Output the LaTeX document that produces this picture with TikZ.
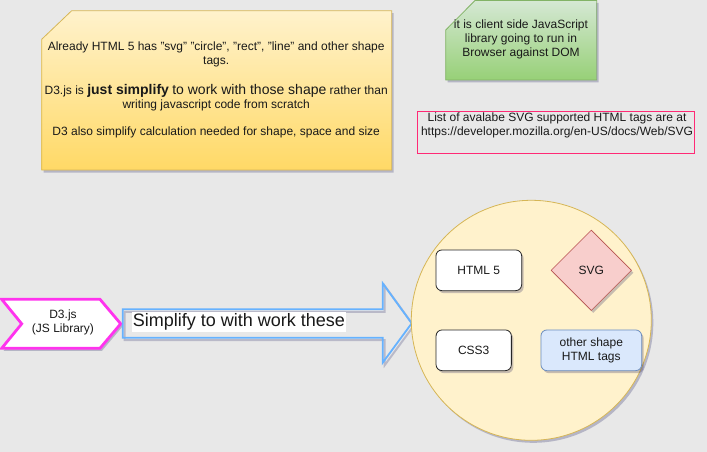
\documentclass[tikz,border=0pt]{standalone}
\usepackage{fontspec}
\setmainfont{Liberation Sans}
\usetikzlibrary{shapes.geometric,shadows}
\definecolor{bg}{HTML}{E8E8E8}
\definecolor{noteTop}{HTML}{FFF2CC}
\definecolor{noteBot}{HTML}{FFD966}
\definecolor{noteLine}{HTML}{D6B656}
\definecolor{greenTop}{HTML}{D5E8D4}
\definecolor{greenBot}{HTML}{97D077}
\definecolor{greenLine}{HTML}{82B366}
\definecolor{pinkLine}{HTML}{FF2A75}
\definecolor{chevLine}{HTML}{FF33EE}
\definecolor{arrowLine}{HTML}{66B2FF}
\definecolor{circFill}{HTML}{FFF2CC}
\definecolor{redFill}{HTML}{F8CECC}
\definecolor{redLine}{HTML}{B85450}
\definecolor{blueFill}{HTML}{DAE8FC}
\definecolor{blueLine}{HTML}{6C8EBF}
\tikzset{
  shad/.style={drop shadow={shadow xshift=2pt,shadow yshift=-2.5pt,opacity=0.22,fill=black!70!blue}},
  txt/.style={font=\fontsize{12}{14}\selectfont, align=center, inner sep=0pt, text=black!90},
  rbox/.style={draw=black!85, fill=white, rounded corners=6pt, minimum height=40.7pt, inner sep=0pt, line width=0.8pt, txt, shad},
}
\begin{document}
\begin{tikzpicture}[x=1pt,y=-1pt]
\fill[bg] (0,0) rectangle (707,452);
\useasboundingbox (0,0) rectangle (707,452);

% yellow note
\path[shad, draw=noteLine, top color=noteTop, bottom color=noteBot, line width=0.8pt]
  (71.7,10.7) -- (391.7,10.7) -- (391.7,170) -- (41.7,170) -- (41.7,39.3) -- cycle;
\node[txt] (p1) at (216.2,54.2) {Already HTML 5 has "svg" "circle", "rect", "line" and other shape\\tags.};
\node[txt] (p2) at (216.2,97.3) {D3.js is {\fontsize{14}{14}\selectfont\bfseries just simplify} {\fontsize{14}{14}\selectfont to work with those shape} rather than\\writing javascript code from scratch};
\node[txt] (p3) at (216.2,132.7) {D3 also simplify calculation needed for shape, space and size};

% green note
\path[shad, draw=greenLine, top color=greenTop, bottom color=greenBot, line width=0.8pt]
  (475,0.5) -- (596.7,0.5) -- (596.7,80) -- (445.7,80) -- (445.7,30) -- cycle;
\node[txt] (g) at (521,39.5) {it is client side JavaScript\\library going to run in\\Browser against DOM};

% pink box
\draw[pinkLine, line width=0.9pt] (417.3,111) rectangle (694.3,153.3);
\node[txt] (lst) at (557,125) {List of avalabe SVG supported HTML tags are at\\https://developer.mozilla.org/en-US/docs/Web/SVG};

% chevron
\path[shad, draw=chevLine, fill=white, line width=2.8pt, line join=miter]
  (1.7,299.3) -- (100,299.3) -- (120.7,323.8) -- (100,348.3) -- (1.7,348.3) -- (21.7,323.8) -- cycle;
\node[txt] (d3) at (63,322.8) {D3.js\\(JS Library)};

% blue arrow (outline only, with a soft outline shadow)
\draw[xshift=2pt, yshift=-2.5pt, draw=black!70!blue, opacity=0.2, line width=2pt, line join=miter]
  (122.7,309.3) -- (382.7,309.3) -- (382.7,283.3) -- (411.7,323.3) -- (382.7,362.7) -- (382.7,337.7) -- (122.7,337.7) -- cycle;
\draw[arrowLine, line width=1.8pt, line join=miter]
  (122.7,309.3) -- (382.7,309.3) -- (382.7,283.3) -- (411.7,323.3) -- (382.7,362.7) -- (382.7,337.7) -- (122.7,337.7) -- cycle;
\node[fill=white, inner xsep=1pt, inner ysep=0pt, minimum height=20pt, font=\fontsize{18}{20}\selectfont, text=black!90] (lbl) at (239,322.3) {Simplify to with work these};

% circle
\node[shad, circle, draw=noteLine, fill=circFill, minimum size=240pt, inner sep=0pt, line width=0.8pt] (circ) at (531.3,320.3) {};
\node[rbox, minimum width=85.7pt] (h5) at (478.8,270.3) {HTML 5};
\node[rbox, minimum width=75.3pt] (css) at (473.7,350.3) {CSS3};
\node[rbox, draw=blueLine, fill=blueFill, minimum width=100.7pt] (oth) at (591.3,350.3) {other shape\\HTML tags};
\node[shad, diamond, draw=redLine, fill=redFill, minimum width=80.5pt, minimum height=80.5pt, inner sep=0pt, line width=0.6pt, txt] (svg) at (591.3,270.3) {SVG};
\end{tikzpicture}
\end{document}
